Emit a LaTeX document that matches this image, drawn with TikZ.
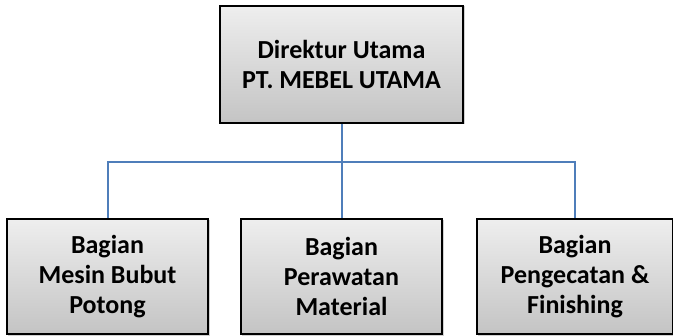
\documentclass[tikz,border=0pt]{standalone}
\usepackage{fontspec}
\setmainfont{Carlito}
\begin{document}
\begin{tikzpicture}[x=1pt,y=1pt,
  unitbox/.style={rectangle, inner sep=0pt, align=center,
    top color=boxtop, bottom color=boxbot, draw=black, line width=2.2pt,
    font=\fontsize{26}{30}\selectfont\bfseries},
  shadowbox/.style={rectangle, inner sep=0pt, fill=black!18, draw=none},
  conn/.style={draw=connblue, line width=2pt}]
\definecolor{boxtop}{RGB}{238,238,238}
\definecolor{boxbot}{RGB}{196,196,196}
\definecolor{connblue}{RGB}{79,126,186}
\useasboundingbox (0,0) rectangle (673,336);

% soft shadows under the boxes
\node[shadowbox, minimum width=244pt, minimum height=118pt] at (343,271) {};
\node[shadowbox, minimum width=202pt, minimum height=116pt] at (109,58) {};
\node[shadowbox, minimum width=202pt, minimum height=116pt] at (343,58) {};
\node[shadowbox, minimum width=197pt, minimum height=116pt] at (576.5,58) {};

% boxes
\node[unitbox, minimum width=243pt, minimum height=117pt] (top) at (341.5,271.5)
  {Direktur Utama\\PT. MEBEL UTAMA};
\node[unitbox, minimum width=201pt, minimum height=115pt] (left) at (107.5,59.5)
  {Bagian\\Mesin Bubut\\Potong};
\node[unitbox, minimum width=201pt, minimum height=115pt] (mid) at (341.5,59.5)
  {Bagian\\Perawatan\\Material};
\node[unitbox, minimum width=196pt, minimum height=115pt] (right) at (575,59.5)
  {Bagian\\Pengecatan \&\\Finishing};

% connectors
\coordinate (bus) at (341.5,174);
\draw[conn] (top.south) -- (mid.north);
\draw[conn] (left.north) |- (bus -| right.north) -- (right.north);
\end{tikzpicture}
\end{document}
